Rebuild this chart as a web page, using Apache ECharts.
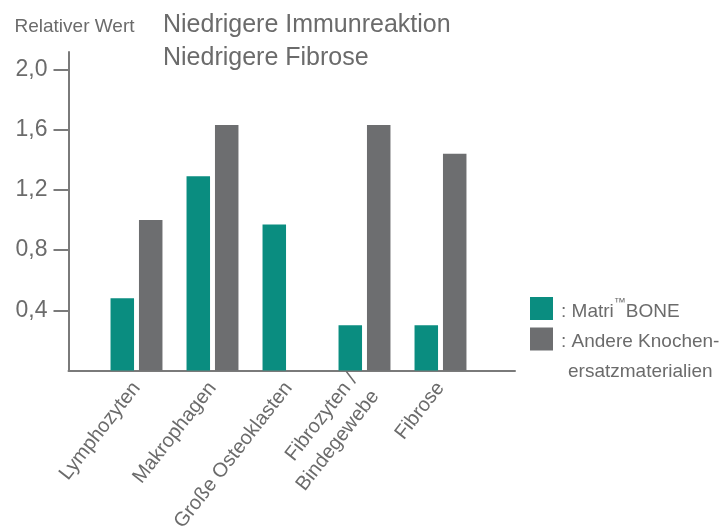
<!DOCTYPE html>
<html>
<head>
<meta charset="utf-8">
<script src="https://cdn.jsdelivr.net/npm/echarts@6/dist/echarts.min.js"></script>
<style>
html,body{margin:0;padding:0;background:#fff;}
#chart{width:724px;height:529px;}
</style>
</head>
<body>
<div id="chart"></div>
<script>
var categories = ['Lymphozyten', 'Makrophagen', 'Große Osteoklasten', 'Fibrozyten /\nBindegewebe', 'Fibrose'];
var matriBone = [0.48, 1.29, 0.97, 0.30, 0.30];
var andere = [1.00, 1.63, '-', 1.63, 1.44];
var yTicks = [0.4, 0.8, 1.2, 1.6, 2.0];
var seriesNames = ['Matri™BONE', 'Andere Knochenersatzmaterialien'];
var legendTexts = ['{f| }\n{p|: Matri}{tm|™}{b|BONE}', '{e| }\n{p|: Andere Knochen-}\n{c|ersatzmaterialien}'];
var titleText = 'Niedrigere Immunreaktion\nNiedrigere Fibrose';
var yName = 'Relativer Wert';

var FONT = '"Liberation Sans", Arial, sans-serif';
var TXT = '#6b6b6b';
var AX = '#7a7a7a';
var TEAL = '#0a8d80';
var GRAY = '#6d6e70';
var YMAX = 2.115;

var legendRich = {
  p: { fontFamily: FONT, fontSize: 19, color: TXT, lineHeight: 30, padding: [0, 0, 0, 3] },
  b: { fontFamily: FONT, fontSize: 19, color: TXT, lineHeight: 30 },
  c: { fontFamily: FONT, fontSize: 19, color: TXT, lineHeight: 30, padding: [0, 0, 0, 10] },
  tm: { fontFamily: FONT, fontSize: 12, color: TXT, lineHeight: 22, verticalAlign: 'top' },
  e: { fontFamily: FONT, fontSize: 19, color: TXT, lineHeight: 36 },
  f: { fontFamily: FONT, fontSize: 4, color: TXT, lineHeight: 6 }
};

var chart = echarts.init(document.getElementById('chart'));
chart.setOption({
  animation: false,
  backgroundColor: '#fff',
  textStyle: { fontFamily: FONT, color: TXT },
  title: {
    text: titleText,
    left: 163, top: 9, padding: 0,
    textStyle: { fontFamily: FONT, fontSize: 25, fontWeight: 'normal', color: TXT, lineHeight: 33 }
  },
  legend: [
    {
      data: [seriesNames[0]],
      left: 530, top: 291.5, padding: 0,
      icon: 'rect', itemWidth: 23, itemHeight: 23, itemGap: 8,
      formatter: function () { return legendTexts[0]; },
      textStyle: { fontFamily: FONT, fontSize: 19, color: TXT, rich: legendRich },
      selectedMode: false
    },
    {
      data: [seriesNames[1]],
      left: 530, top: 299.5, padding: 0,
      icon: 'rect', itemWidth: 23, itemHeight: 23, itemGap: 8,
      formatter: function () { return legendTexts[1]; },
      textStyle: { fontFamily: FONT, fontSize: 19, color: TXT, rich: legendRich },
      selectedMode: false
    }
  ],
  grid: [
    { left: 98.5, width: 380, top: 52, bottom: 158.5, outerBoundsMode: 'none', containLabel: false },
    { left: 68.5, right: 209, top: 52, bottom: 158.5, outerBoundsMode: 'none', containLabel: false }
  ],
  xAxis: [
    {
      type: 'category', gridIndex: 0, data: categories,
      axisLine: { show: false }, axisTick: { show: false },
      axisLabel: { rotate: 52, margin: 14, fontFamily: FONT, fontSize: 20, color: TXT, lineHeight: 27, interval: 0 }
    },
    {
      type: 'value', gridIndex: 1, min: 0, max: 1,
      axisLine: { show: true, lineStyle: { color: AX, width: 2 } },
      axisTick: { show: false }, axisLabel: { show: false }, splitLine: { show: false }
    }
  ],
  yAxis: [
    { type: 'value', gridIndex: 0, min: 0, max: YMAX, show: false, splitLine: { show: false } },
    {
      type: 'value', gridIndex: 1, min: 0, max: YMAX, interval: 0.4,
      name: yName, nameLocation: 'end', nameGap: 16,
      nameTextStyle: { fontFamily: FONT, fontSize: 19, color: TXT, padding: [0, 0, 0, 12] },
      axisLine: { show: true, lineStyle: { color: AX, width: 2 } },
      axisTick: { show: true, length: 15, customValues: yTicks, lineStyle: { color: AX, width: 2 } },
      axisLabel: {
        customValues: yTicks, margin: 21, fontFamily: FONT, fontSize: 23, color: TXT,
        formatter: function (v) { return v.toFixed(1).replace('.', ','); }
      },
      splitLine: { show: false }
    }
  ],
  series: [
    {
      name: seriesNames[0], type: 'bar', xAxisIndex: 0, yAxisIndex: 0,
      data: matriBone, barWidth: 23.5, barGap: '21%',
      itemStyle: { color: TEAL }
    },
    {
      name: seriesNames[1], type: 'bar', xAxisIndex: 0, yAxisIndex: 0,
      data: andere, barWidth: 23.5, barGap: '21%',
      itemStyle: { color: GRAY }
    }
  ]
});
</script>
</body>
</html>
